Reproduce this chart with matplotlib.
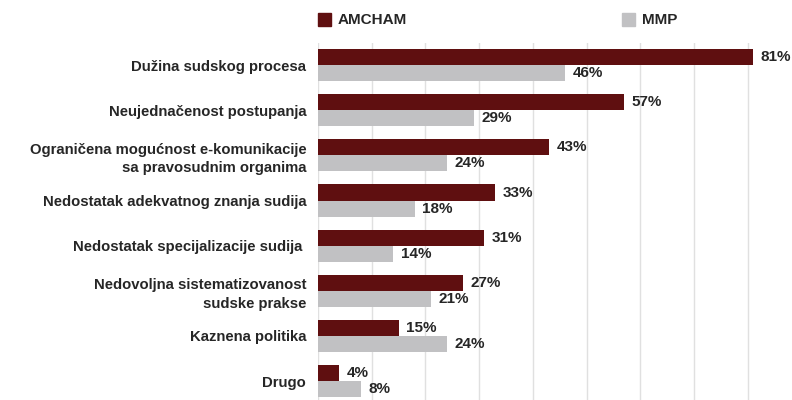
import matplotlib
matplotlib.use("Agg")
import matplotlib.pyplot as plt
import numpy as np

categories = [
    "Dužina sudskog procesa",
    "Neujednačenost postupanja",
    "Ograničena mogućnost e-komunikacije\nsa pravosudnim organima",
    "Nedostatak adekvatnog znanja sudija",
    "Nedostatak specijalizacije sudija ",
    "Nedovoljna sistematizovanost\nsudske prakse",
    "Kaznena politika",
    "Drugo",
]
amcham = [81, 57, 43, 33, 31, 27, 15, 4]
mmp = [46, 29, 24, 18, 14, 21, 24, 8]
series_names = ["AMCHAM", "MMP"]

plt.rcParams['font.family'] = ['Liberation Sans', 'DejaVu Sans']
TXT = '#262626'
C1 = '#5f0f10'
C2 = '#c1c1c3'

fig = plt.figure(figsize=(7.92, 4.0), dpi=100)
ax = fig.add_axes([318/792, 0, 1 - 318/792, 1 - 43/400])

y = np.arange(len(categories))
h = 0.355
b1 = ax.barh(y - h/2, amcham, height=h, color=C1, label=series_names[0])
b2 = ax.barh(y + h/2, mmp, height=h, color=C2, label=series_names[1])

ax.set_xlim(0, (792 - 318) / 5.37)
ax.set_ylim(len(categories) - 1 + 0.42, -0.49)
ax.set_xticks(np.arange(0, 90, 10))
ax.xaxis.grid(True, color='#e0e0e0', linewidth=1)
ax.set_axisbelow(True)
ax.tick_params(axis='x', length=0, labelbottom=False)
ax.tick_params(axis='y', length=0, pad=8.5)
ax.set_yticks(y)
ax.set_yticklabels(categories, fontsize=10.7, fontweight='bold', color=TXT,
                   multialignment='right', linespacing=1.4)
for s in ax.spines.values():
    s.set_visible(False)

for bars, vals in ((b1, amcham), (b2, mmp)):
    for rect, v in zip(bars, vals):
        ax.annotate(f"{v}%", (rect.get_width(), rect.get_y() + rect.get_height()/2),
                    xytext=(5.5, 0), textcoords='offset points', ha='left', va='center',
                    fontsize=11, fontweight='bold', color=TXT, annotation_clip=False)

# legend
fig.patches.append(plt.Rectangle((318/792, 1 - 26/400), 13/792, 13/400,
                                  transform=fig.transFigure, color=C1))
fig.text(338/792, 1 - 19.5/400, series_names[0], fontsize=11, fontweight='bold',
         color=TXT, va='center', ha='left')
fig.patches.append(plt.Rectangle((622/792, 1 - 26/400), 13/792, 13/400,
                                  transform=fig.transFigure, color=C2))
fig.text(642/792, 1 - 19.5/400, series_names[1], fontsize=11, fontweight='bold',
         color=TXT, va='center', ha='left')

fig.savefig("out.png", dpi=100)
